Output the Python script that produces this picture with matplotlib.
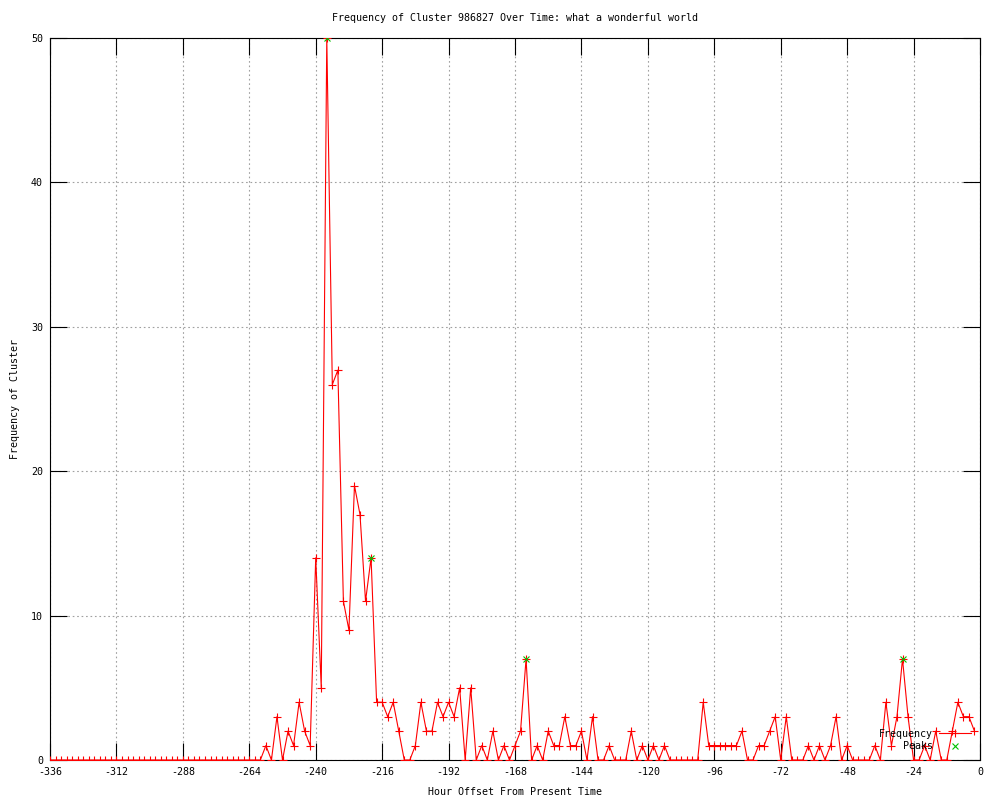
import matplotlib
matplotlib.use("Agg")
import matplotlib.pyplot as plt

# Hour offsets (every 2 hours from -336 to -2)
hours = list(range(-336, 0, 2))

# Frequency values
freq_early = [0] * 39  # -336 .. -260
freq_rest = [
    1, 0, 3, 0, 2, 1, 4, 2, 1, 14,        # -258 .. -240
    5, 50, 26, 27, 11, 9, 19, 17, 11, 14,  # -238 .. -220
    4, 4, 3, 4, 2, 0, 0, 1, 4, 2,          # -218 .. -200
    2, 4, 3, 4, 3, 5, 0, 5, 0, 1,          # -198 .. -180
    0, 2, 0, 1, 0, 1, 2, 7, 0, 1,          # -178 .. -160
    0, 2, 1, 1, 3, 1, 1, 2, 0, 3,          # -158 .. -140
    0, 0, 1, 0, 0, 0, 2, 0, 1, 0,          # -138 .. -120
    1, 0, 1, 0, 0, 0, 0, 0, 0, 4,          # -118 .. -100
    1, 1, 1, 1, 1, 1, 2, 0, 0, 1,          # -98 .. -80
    1, 2, 3, 0, 3, 0, 0, 0, 1, 0,          # -78 .. -60
    1, 0, 1, 3, 0, 1, 0, 0, 0, 0,          # -58 .. -40
    1, 0, 4, 1, 3, 7, 3, 0, 0, 1,          # -38 .. -20
    0, 2, 0, 0, 2, 4, 3, 3, 2,             # -18 .. -2
]
freq = freq_early + freq_rest

# Detected peaks
peak_hours = [-236, -220, -164, -28]
peak_values = [50, 14, 7, 7]

# Axis ticks
x_ticks = list(range(-336, 1, 24))
y_ticks = [0, 10, 20, 30, 40, 50]

title = "Frequency of Cluster 986827 Over Time: what a wonderful world"
xlabel = "Hour Offset From Present Time"
ylabel = "Frequency of Cluster"

FONT = "DejaVu Sans Mono"
FS = 7.2

fig = plt.figure(figsize=(10, 8), dpi=100)
ax = fig.add_axes([0.05, 0.05, 0.93, 0.9025])

ax.plot(hours, freq, color="#ff0000", linewidth=0.8, marker="+",
        markersize=5.5, markeredgewidth=0.8, label="Frequency", zorder=3)
ax.plot(peak_hours, peak_values, linestyle="none", color="#00c000",
        marker="x", markersize=5, markeredgewidth=0.8, label="Peaks", zorder=4)

ax.set_xlim(-336, 0)
ax.set_ylim(0, 50)
ax.set_xticks(x_ticks)
ax.set_yticks(y_ticks)
ax.set_xticklabels([str(t) for t in x_ticks], fontfamily=FONT, fontsize=FS)
ax.set_yticklabels([str(t) for t in y_ticks], fontfamily=FONT, fontsize=FS)

ax.tick_params(direction="in", length=12, width=0.8, top=True, right=True,
               color="black", pad=5)
ax.grid(True, color="#a0a0a0", linestyle=(0, (1.5, 2.5)), linewidth=0.8, zorder=0)
for s in ax.spines.values():
    s.set_linewidth(0.8)
    s.set_color("black")

ax.set_title(title, fontfamily=FONT, fontsize=FS, pad=12)
ax.set_xlabel(xlabel, fontfamily=FONT, fontsize=FS, labelpad=7)
ax.set_ylabel(ylabel, fontfamily=FONT, fontsize=FS, labelpad=8)

leg = ax.legend(loc="lower right", bbox_to_anchor=(0.990, 0.012), frameon=False,
                markerfirst=False, prop={"family": FONT, "size": FS},
                handlelength=3.2, handletextpad=0.6, labelspacing=0.25,
                borderpad=0.0, borderaxespad=0.0)

fig.savefig("out.png", dpi=100)
